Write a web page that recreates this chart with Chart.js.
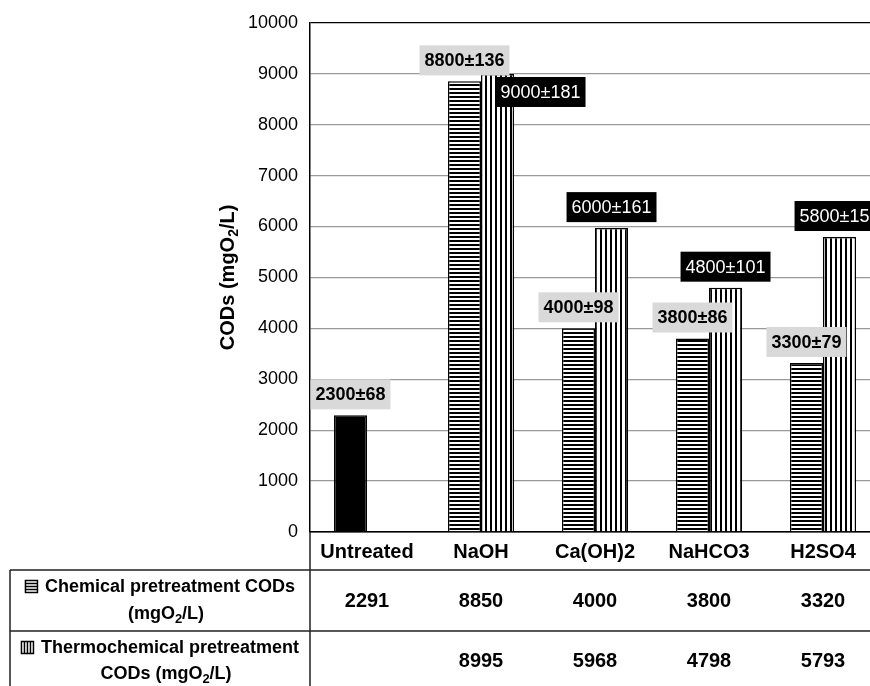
<!DOCTYPE html>
<html>
<head>
<meta charset="utf-8">
<script src="https://cdn.jsdelivr.net/npm/chart.js@4.4.0/dist/chart.umd.min.js"></script>
<style>
html, body { margin: 0; padding: 0; overflow: hidden; background: #fff; }
#wrap { width: 880px; height: 686px; }
</style>
</head>
<body>
<div id="wrap"><canvas id="codChart" width="880" height="686"></canvas></div>
<script>
// Datos del grafico
const categories = ['Untreated', 'NaOH', 'Ca(OH)2', 'NaHCO3', 'H2SO4'];
const chemicalCODs = [2291, 8850, 4000, 3800, 3320];
const thermoCODs = [null, 8995, 5968, 4798, 5793];
const chemicalLabels = ['2300±68', '8800±136', '4000±98', '3800±86', '3300±79'];
const thermoLabels = [null, '9000±181', '6000±161', '4800±101', '5800±152'];
const yMin = 0, yMax = 10000, yStep = 1000;

const FONT = '"Liberation Sans", Arial, Helvetica, sans-serif';
Chart.defaults.font.family = FONT;
Chart.defaults.color = '#000';

const canvas = document.getElementById('codChart');
const ctx = canvas.getContext('2d');

// Patrones de rayas (horizontal = quimico, vertical = termoquimico)
function makeStripes(vertical) {
    const c = document.createElement('canvas');
    c.width = vertical ? 5 : 1;
    c.height = vertical ? 1 : 4;
    const g = c.getContext('2d');
    g.fillStyle = '#fff';
    g.fillRect(0, 0, c.width, c.height);
    g.fillStyle = '#000';
    if (vertical) g.fillRect(0, 0, 2, 1);
    else g.fillRect(0, 0, 1, 2);
    return ctx.createPattern(c, 'repeat');
}
const hStripes = makeStripes(false);
const vStripes = makeStripes(true);

// Texto con subindice: parts = [[texto, esSubindice], ...]
function partsWidth(g, parts, size) {
    let w = 0;
    parts.forEach(p => {
        g.font = 'bold ' + (p[1] ? Math.round(size * 0.7) : size) + 'px ' + FONT;
        w += g.measureText(p[0]).width;
    });
    return w;
}
function drawParts(g, parts, x, y, size) {
    let cx = x;
    g.textAlign = 'left';
    g.textBaseline = 'middle';
    parts.forEach(p => {
        g.font = 'bold ' + (p[1] ? Math.round(size * 0.7) : size) + 'px ' + FONT;
        g.fillText(p[0], cx, p[1] ? y + size * 0.3 : y);
        cx += g.measureText(p[0]).width;
    });
}

// Desplazamientos especiales de etiquetas (dataset-indice)
const labelShift = { '1-1': [43, 39] };

const extras = {
    id: 'extras',
    afterDatasetsDraw(chart) {
        const g = chart.ctx;
        g.save();
        [chemicalLabels, thermoLabels].forEach((labels, ds) => {
            const meta = chart.getDatasetMeta(ds);
            labels.forEach((txt, i) => {
                if (!txt) return;
                const bar = meta.data[i];
                g.font = (ds === 0 ? 'bold ' : '') + '18px ' + FONT;
                const tw = g.measureText(txt).width;
                const bw = tw + 10, bh = 30;
                let cx = bar.x, cy = bar.y - 6 - bh / 2;
                const s = labelShift[ds + '-' + i];
                if (s) { cx += s[0]; cy += s[1]; }
                g.fillStyle = ds === 0 ? '#d9d9d9' : '#000';
                g.fillRect(cx - bw / 2, cy - bh / 2, bw, bh);
                g.fillStyle = ds === 0 ? '#000' : '#fff';
                g.textAlign = 'center';
                g.textBaseline = 'middle';
                g.fillText(txt, cx, cy + 1);
            });
        });
        g.restore();
    },
    afterDraw(chart) {
        const g = chart.ctx;
        const area = chart.chartArea;
        const xs = chart.scales.x;
        g.save();

        // Titulo del eje Y
        const title = [['CODs (mgO', false], ['2', true], ['/L)', false]];
        const tw = partsWidth(g, title, 20);
        g.translate(228, (area.top + area.bottom) / 2);
        g.rotate(-Math.PI / 2);
        g.fillStyle = '#000';
        drawParts(g, title, -tw / 2, 0, 20);
        g.setTransform(1, 0, 0, 1, 0, 0);

        // Tabla de datos
        g.strokeStyle = '#222';
        g.lineWidth = 1.5;
        g.beginPath();
        g.moveTo(10, 570); g.lineTo(chart.width, 570);
        g.moveTo(10, 631); g.lineTo(chart.width, 631);
        g.moveTo(10, 570); g.lineTo(10, chart.height);
        g.moveTo(area.left, area.bottom); g.lineTo(area.left, chart.height);
        g.stroke();

        // Iconos de leyenda
        function icon(x, y, vertical) {
            g.lineWidth = 1.5;
            g.strokeStyle = '#000';
            g.strokeRect(x, y, 12, 12);
            g.beginPath();
            for (let k = 1; k <= 3; k++) {
                const d = k * 3;
                if (vertical) { g.moveTo(x + d, y); g.lineTo(x + d, y + 12); }
                else { g.moveTo(x, y + d); g.lineTo(x + 12, y + d); }
            }
            g.stroke();
        }

        const rows = [
            { l1: 'Chemical pretreatment CODs', l2: [['(mgO', false], ['2', true], ['/L)', false]], y1: 587, y2: 614, vy: 601, vals: chemicalCODs, vertical: false },
            { l1: 'Thermochemical pretreatment', l2: [['CODs (mgO', false], ['2', true], ['/L)', false]], y1: 648, y2: 674, vy: 661, vals: thermoCODs, vertical: true }
        ];
        g.fillStyle = '#000';
        rows.forEach(r => {
            const w1 = partsWidth(g, [[r.l1, false]], 18);
            const x1 = 160 - (w1 + 20) / 2;
            icon(x1 + 0.5, r.y1 - 6.5, r.vertical);
            drawParts(g, [[r.l1, false]], x1 + 20, r.y1, 18);
            const w2 = partsWidth(g, r.l2, 18);
            drawParts(g, r.l2, 166 - w2 / 2, r.y2, 18);
            g.font = 'bold 20px ' + FONT;
            g.textAlign = 'center';
            g.textBaseline = 'middle';
            r.vals.forEach((v, i) => {
                if (v === null) return;
                g.fillText(String(v), xs.getPixelForValue(i), r.vy);
            });
        });
        g.restore();
    }
};

new Chart(ctx, {
    type: 'bar',
    data: {
        labels: categories,
        datasets: [{
            label: 'Chemical pretreatment CODs (mgO2/L)',
            data: chemicalCODs,
            backgroundColor: c => c.dataIndex === 0 ? '#000' : hStripes,
            borderColor: '#000',
            borderWidth: 1.5,
            categoryPercentage: 0.58,
            barPercentage: 1
        }, {
            label: 'Thermochemical pretreatment CODs (mgO2/L)',
            data: thermoCODs,
            backgroundColor: vStripes,
            borderColor: '#000',
            borderWidth: 1.5,
            categoryPercentage: 0.58,
            barPercentage: 1
        }]
    },
    options: {
        responsive: false,
        animation: false,
        devicePixelRatio: 1,
        layout: { padding: { top: 21, left: 0, right: 0, bottom: 0 } },
        plugins: { legend: { display: false }, tooltip: { enabled: false } },
        scales: {
            x: {
                grid: { display: false, drawTicks: false },
                border: { color: '#000', width: 1.5 },
                ticks: { color: '#000', font: { size: 20, weight: 'bold' }, padding: 8, maxRotation: 0, autoSkip: false },
                afterFit: s => { s.height = 154; }
            },
            y: {
                min: yMin,
                max: yMax,
                grid: {
                    drawTicks: false,
                    color: c => (c.tick && (c.tick.value === yMin || c.tick.value === yMax)) ? '#000' : '#999',
                    lineWidth: 1.3
                },
                border: { color: '#000', width: 1.5 },
                ticks: { stepSize: yStep, color: '#000', font: { size: 18 }, padding: 12, callback: v => String(v) },
                afterFit: s => { s.width = 310; }
            }
        }
    },
    plugins: [extras]
});
</script>
</body>
</html>
